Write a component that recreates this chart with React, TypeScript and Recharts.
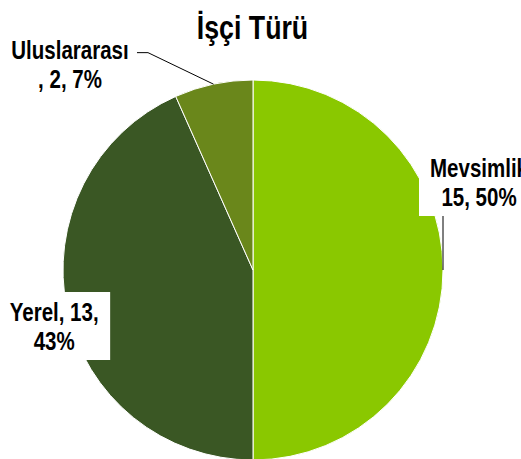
import { PieChart, Pie, Cell } from "recharts";

const categories = ["Mevsimlik", "Yerel", "Uluslararası"];
const counts = [15, 13, 2];
const percents = ["50%", "43%", "7%"];
const sliceColors = ["#8AC800", "#3A5724", "#6A871B"];

// label text lines per slice (as Excel wraps them)
const labelLines = [
  [`${categories[0]}`, `${counts[0]}, ${percents[0]}`],
  [`${categories[1]}, ${counts[1]},`, `${percents[1]}`],
  [`${categories[2]}`, `, ${counts[2]}, ${percents[2]}`],
];

const data = categories.map((name, i) => ({ name, value: counts[i] }));

// label box placement relative to the slice's outer mid point
const labelLayout = [
  { dx: 36, dy: -88, w: 120, h: 68, lead: [[0, -54]] },
  { dx: -13, dy: 16.5, w: 112, h: 68, lead: [] },
  { dx: -143.5, dy: -20, w: 130, h: 62, lead: [[-65.5, -31.5], [-76.5, -31.5]] },
];

const FONT = "'Liberation Sans', Arial, sans-serif";
const FS = 25;
const SX = 0.82;
const RAD = Math.PI / 180;

const renderLabel = (props: any) => {
  const { cx, cy, midAngle, outerRadius, index } = props;
  const ax = cx + outerRadius * Math.cos(-midAngle * RAD);
  const ay = cy + outerRadius * Math.sin(-midAngle * RAD);
  const l = labelLayout[index];
  const x = ax + l.dx;
  const y = ay + l.dy;
  const pts = [[ax, ay], ...l.lead.map(([px, py]) => [ax + px, ay + py])];
  return (
    <g key={`lbl-${index}`}>
      {pts.length > 1 && (
        <polyline
          points={pts.map((p) => p.join(",")).join(" ")}
          fill="none"
          stroke="#000"
          strokeWidth={1}
        />
      )}
      <rect x={x - l.w / 2} y={y - l.h / 2} width={l.w} height={l.h} fill="#fff" />
      {labelLines[index].map((t, j) => (
        <text
          key={j}
          transform={`translate(${x},${y - 5.3 + j * 29.5}) scale(${SX},1)`}
          textAnchor="middle"
          fontFamily={FONT}
          fontWeight="bold"
          fontSize={FS}
          fill="#000"
        >
          {t}
        </text>
      ))}
    </g>
  );
};

export default function App() {
  return (
    <div style={{ position: "absolute", left: 0, top: 0, width: 521, height: 459, background: "#fff", overflow: "hidden" }}>
      <div
        style={{
          position: "absolute",
          left: 0,
          width: 505,
          top: 8,
          textAlign: "center",
          fontFamily: FONT,
          fontWeight: "bold",
          fontSize: 33,
          lineHeight: "40px",
          transform: "scaleX(0.81)",
        }}
      >
        İşçi Türü
      </div>
      <PieChart
        width={521}
        height={459}
        margin={{ top: 0, right: 0, bottom: 0, left: 0 }}
        style={{ position: "absolute", left: 0, top: 0 }}
      >
        <Pie
          data={data}
          dataKey="value"
          nameKey="name"
          cx={253}
          cy={270}
          outerRadius={190}
          startAngle={90}
          endAngle={-270}
          stroke="#fff"
          strokeWidth={1}
          label={renderLabel}
          labelLine={false}
          isAnimationActive={false}
        >
          {data.map((d, i) => (
            <Cell key={d.name} fill={sliceColors[i]} />
          ))}
        </Pie>
      </PieChart>
    </div>
  );
}
